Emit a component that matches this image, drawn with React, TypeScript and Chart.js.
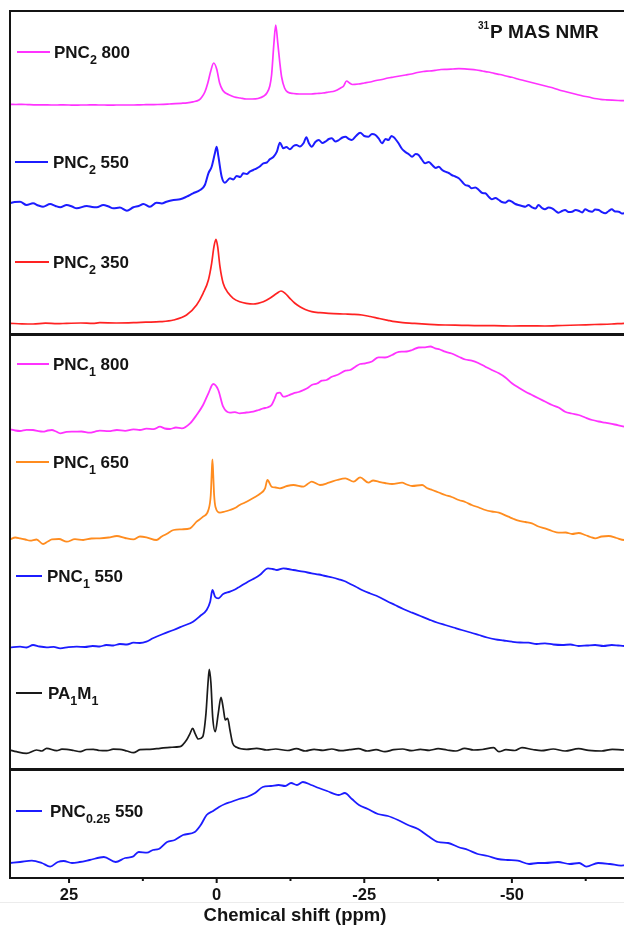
import React, { useEffect, useRef } from "react";
import { Chart, registerables } from "chart.js";

Chart.register(...registerables);

// Chemical shift axis (ppm); high field to the right
const SHIFT_LEFT = 35;
const SHIFT_RIGHT = -70;
const TICK_STEP = 12.5;
const LABEL_STEP = 25;

type Pt = [number, number];

// 31P MAS NMR traces: [chemical shift (ppm), intensity (a.u.)]
const pnc2_800: Pt[] = [
  [35, 0.7], [34, 0.5], [33, 0.6], [32, 0.4], [31, 0.2], [30, 0.2], [29, 0.1], [28, 0], [27, 0], [26, 0.1],
  [25, 0], [24, -0.2], [23, 0], [22, 0], [21, 0.2], [20, 0], [19, 0], [18, -0.2], [17, 0], [16, 0],
  [15, 0], [14, 0], [13, 0.2], [12, 0.3], [11, 0.4], [10, 0.5], [9, 0.7], [8, 1], [7, 1.3], [6, 1.7],
  [5, 2.2], [4, 3.2], [3, 5], [2.5, 8], [2, 13], [1.5, 22], [1, 34], [0.5, 42], [0, 36], [-0.5, 22],
  [-1, 15], [-1.5, 12], [-2, 10.5], [-3, 8], [-4, 7], [-5, 6], [-6, 6], [-7, 6.5], [-8, 9], [-8.5, 12],
  [-9, 19], [-9.3, 30], [-9.7, 62], [-10, 80], [-10.35, 62], [-10.7, 42], [-11, 28], [-11.5, 17], [-12, 13], [-13, 11.5],
  [-14, 11], [-15, 11], [-16, 11], [-17, 11.5], [-18, 12], [-19, 13], [-20, 14], [-21, 17], [-21.5, 19], [-22, 24],
  [-22.5, 22], [-23, 20.5], [-24, 21], [-25, 22], [-26, 23], [-27, 24.5], [-28, 25.5], [-29, 27], [-30, 28], [-31, 29],
  [-32, 30], [-33, 31], [-34, 32.5], [-35, 33.5], [-36, 34], [-37, 34.7], [-38, 35.5], [-39, 35.7], [-40, 36], [-41, 36.3],
  [-42, 36.2], [-43, 35.7], [-44, 35], [-45, 34], [-46, 33], [-47, 31.7], [-48, 30.5], [-49, 29], [-50, 27.7], [-51, 26],
  [-52, 24.5], [-53, 23], [-54, 21.5], [-55, 20], [-56, 18.5], [-57, 17], [-58, 15], [-59, 13.5], [-60, 12], [-61, 10.5],
  [-62, 9], [-63, 8], [-64, 6.5], [-65, 5.7], [-66, 5.2], [-67, 4.8], [-68, 4.5], [-69, 4.3], [-70, 4],
];

const pnc2_550: Pt[] = [
  [35, 11.7], [34.2, 13], [33.3, 13.3], [32.2, 10], [31.1, 11.7], [30.2, 9.5], [29.4, 8.3], [28.2, 11], [27.3, 9], [26.5, 7.7],
  [25.4, 10], [24.5, 8.5], [23.7, 6.7], [22, 9], [21.1, 8], [20.3, 7.7], [19.2, 10], [18.3, 8.5], [17.5, 6.7], [16.4, 7.5],
  [15.2, 4.3], [14.1, 7.7], [13.2, 9], [12.4, 11], [11.3, 8.3], [10.2, 12.3], [9.3, 11.5], [8.5, 13.3], [7.3, 15], [6.2, 15.7],
  [5.1, 18.3], [4, 21.7], [2.8, 25], [2, 30], [1.4, 41.7], [0.85, 48.3], [0.3, 61.7], [0, 68.3], [-0.3, 58.3], [-0.85, 38.3],
  [-1.4, 32.3], [-2.25, 36.7], [-2.8, 35.5], [-3.4, 39], [-4, 38], [-4.5, 41.7], [-5.1, 41], [-5.6, 43.3], [-6.2, 45], [-6.8, 46.7],
  [-7.3, 48.5], [-7.9, 51.7], [-8.5, 52.5], [-9, 55.7], [-9.6, 58], [-10.2, 63.3], [-10.7, 72.3], [-11.3, 66.7], [-11.8, 68], [-12.4, 65.7],
  [-13, 69], [-13.5, 70], [-14.1, 68.5], [-14.7, 71.7], [-15.2, 77.7], [-15.6, 72], [-16.1, 68.3], [-16.7, 73], [-17.3, 75], [-17.9, 72],
  [-18.4, 73.3], [-19, 76], [-19.5, 76.7], [-20.1, 73.5], [-20.7, 75], [-21.3, 77.5], [-21.8, 78.3], [-22.4, 76], [-22.9, 75], [-23.6, 79],
  [-24.3, 82.3], [-25, 79], [-25.7, 78.3], [-26.3, 81], [-26.9, 80], [-27.5, 76], [-28, 71.7], [-28.6, 76], [-29.1, 75], [-29.6, 79],
  [-30, 77.7], [-30.4, 75], [-30.8, 71.7], [-31.4, 66], [-31.9, 63.3], [-32.5, 61], [-33.1, 58.3], [-33.7, 61], [-34.2, 60], [-34.8, 55],
  [-35.3, 51.7], [-35.9, 53], [-36.5, 50], [-37.1, 47], [-37.6, 48.3], [-38.2, 45], [-38.7, 43.3], [-39.3, 42], [-39.8, 40], [-40.4, 38.5],
  [-41, 36.7], [-41.6, 33], [-42.1, 30], [-42.7, 29], [-43.2, 26.7], [-43.8, 27.5], [-44.4, 25], [-45, 22], [-45.5, 21.7], [-46.1, 18],
  [-46.6, 15.7], [-47.2, 17], [-47.8, 15], [-48.3, 13], [-48.9, 12.3], [-49.5, 14.5], [-50, 13.3], [-50.6, 11], [-51.1, 10], [-51.7, 9],
  [-52.3, 8.3], [-52.8, 10], [-53.4, 7.7], [-54, 6.5], [-54.5, 10], [-55.1, 7], [-55.6, 5.7], [-56.2, 7.5], [-56.8, 6.7], [-57.4, 4],
  [-57.9, 2.3], [-58.5, 4], [-59, 5], [-59.6, 3], [-60.2, 3.3], [-60.8, 5], [-61.3, 4.3], [-61.9, 2.5], [-62.4, 5.7], [-63, 4],
  [-63.6, 3.3], [-64.1, 5.5], [-64.7, 5], [-65.2, 3], [-65.8, 1.7], [-66.4, 4], [-66.9, 5.7], [-67.5, 3.5], [-68.1, 3.3], [-68.6, 1.5],
  [-69, 1.7], [-70, 3],
];

const pnc2_350: Pt[] = [
  [35, 1.7], [33, 1.2], [31.1, 1], [29, 1.8], [27, 1.3], [25.4, 1.7], [23, 2], [21, 1.6], [19.8, 2.3], [17, 2],
  [14.1, 2.3], [12, 2.8], [9.6, 3.3], [7.3, 5], [5.1, 10], [3.4, 20], [2.3, 31.7], [1.4, 45], [0.85, 61.7], [0.46, 78.3],
  [0.12, 85.7], [-0.17, 78.3], [-0.56, 58.3], [-1.1, 41.7], [-2, 31.7], [-2.8, 26.7], [-3.9, 23.3], [-5, 21.7], [-6.2, 21], [-7, 21.7],
  [-7.9, 23.3], [-9, 26.7], [-10.2, 31.7], [-10.9, 34], [-11.6, 31.7], [-12.4, 26.7], [-13.2, 22], [-14.1, 18.3], [-15, 15.5], [-16.1, 13.3],
  [-17.5, 12.3], [-19, 11.7], [-21.8, 11], [-23, 10.7], [-24.6, 10], [-26, 8.5], [-27.4, 6.7], [-29, 4.7], [-30.2, 3.3], [-31.5, 2.3],
  [-33.1, 1.7], [-36, 0.7], [-38.7, 0], [-41.5, -0.3], [-44.4, -0.7], [-47, -0.7], [-50, -1], [-53, -0.8], [-55.6, -1], [-58.5, -0.5],
  [-61.3, 0], [-64, 0.5], [-66.9, 1], [-69, 1.7], [-70, 1.8],
];

const pnc1_800: Pt[] = [
  [35, 2.7], [34.1, 1.5], [33.3, 1], [32.2, 2.2], [31.1, 2], [30.2, 0.8], [29.4, 0.3], [28.6, 1.5], [27.9, 2], [27.2, 0.5],
  [26.5, -1.3], [25.4, 0.2], [24.3, 0.3], [22.9, 0.5], [21.5, -0.7], [20.6, 0.4], [19.8, 1.3], [18.3, 0.8], [16.9, 2], [15.5, 1.2],
  [14.1, 2.7], [13, 2], [11.9, 3.3], [10.7, 2.8], [9.6, 5.3], [8.8, 3.5], [7.9, 3], [6.9, 4.5], [5.9, 3.7], [4.5, 8.7],
  [3.4, 17], [2.3, 27], [1.4, 38.7], [0.58, 48], [-0.27, 42], [-1.1, 25.3], [-2.25, 19.3], [-3.1, 19.8], [-3.9, 18.7], [-5, 19.5],
  [-6.2, 20.3], [-7.1, 22], [-7.9, 23.7], [-8.6, 24.5], [-9.3, 27], [-9.8, 33], [-10.2, 38.7], [-10.7, 39.3], [-11.3, 35.3], [-12.1, 36.5],
  [-13, 38.7], [-13.9, 40], [-14.7, 42], [-15.4, 44], [-16.1, 47], [-17, 48.5], [-17.8, 51.3], [-18.6, 52], [-19.5, 55.3], [-20.6, 57.5],
  [-21.8, 61.3], [-22.6, 62], [-23.5, 65.3], [-24.3, 68], [-25.2, 68.7], [-26.3, 70.5], [-27.4, 74.7], [-28.5, 74.5], [-29.7, 77], [-30.5, 79.5],
  [-31.4, 80.3], [-32.2, 80.5], [-33.1, 82], [-34.2, 84.5], [-35.3, 84.7], [-36.2, 85.5], [-37, 83.7], [-37.8, 82.5], [-38.7, 80.3], [-39.8, 78.5],
  [-41, 75.3], [-42.1, 72.5], [-43.2, 71.3], [-44.3, 69], [-45.5, 65.3], [-46.6, 62], [-47.8, 58.7], [-48.9, 54.5], [-50, 48.7], [-51.1, 44.5],
  [-52.3, 40.3], [-53.4, 37], [-54.5, 33.7], [-55.6, 30.5], [-56.8, 27], [-57.9, 24.5], [-59, 20.3], [-60.1, 18.5], [-61.3, 17], [-62.4, 14.5],
  [-63.6, 12], [-64.7, 10.5], [-65.8, 9.3], [-67.4, 7.5], [-69, 5.3], [-70, 5],
];

const pnc1_650: Pt[] = [
  [35, 0.7], [34.1, 2.5], [33.3, 1.7], [32.4, 0.5], [31.6, -0.7], [30.5, 0.5], [29.4, -4], [28.6, -1.5], [27.9, 0.7], [26.7, 1],
  [25.4, -1.7], [24, 0.8], [22.6, 0], [21.2, 1.5], [19.8, 1.7], [18.3, 2.5], [16.9, 4], [15.5, 2], [14.1, 0.7], [13, 3.5],
  [11.9, 2.7], [10.2, 0], [9.3, 3.5], [8.5, 6], [7.3, 10], [5.9, 10.7], [4.5, 11.7], [3.4, 18.3], [2.3, 23.3], [1.4, 30],
  [1.0, 45], [0.85, 65], [0.72, 80.7], [0.58, 65], [0.43, 45], [0.2, 33], [-0.56, 27.3], [-1.4, 28.5], [-2.25, 30], [-3.1, 32],
  [-3.9, 35], [-4.8, 37.5], [-5.6, 40], [-6.5, 43], [-7.3, 46], [-8.2, 51.7], [-8.6, 60], [-9.3, 53.3], [-10, 52.5], [-10.7, 51.7],
  [-11.9, 54], [-13, 55], [-14.7, 53.3], [-15.4, 56], [-16.1, 58.3], [-17.5, 55], [-19, 57.3], [-20.4, 60], [-21.8, 61.7], [-23.2, 58.3],
  [-24.3, 62.7], [-25.7, 57.3], [-26.5, 59.5], [-27.4, 58.3], [-28.5, 57], [-29.7, 56], [-31.4, 57.3], [-32.2, 55.5], [-33.1, 54], [-34.8, 55],
  [-35.6, 52], [-36.5, 50], [-37.6, 47.5], [-38.7, 45], [-39.8, 43], [-41, 40], [-42.1, 38], [-43.2, 35], [-44.4, 32.5], [-45.5, 30],
  [-46.6, 28.5], [-47.8, 27.3], [-49.4, 23.3], [-50.3, 21], [-51.1, 19.3], [-52.3, 18], [-53.4, 16.7], [-54.5, 13.5], [-55.6, 11.7], [-56.8, 9],
  [-57.9, 7.3], [-59.1, 7.5], [-60.2, 6], [-61.3, 7], [-62.4, 5], [-63.3, 3], [-64.1, 1.7], [-65.2, 3.5], [-66.4, 4], [-67.7, 2],
  [-69, 0], [-70, 0.5],
];

const pnc1_550: Pt[] = [
  [35, 0.7], [33.3, 1.3], [32.2, 0.5], [31.1, 3], [30, 1.5], [28.8, 0.7], [27.6, 1.2], [26.5, -0.3], [25.1, 0.8], [23.7, 1.3],
  [22.3, 1], [21, 2], [19.8, 1.5], [18.7, 3], [17.5, 2.5], [16.4, 4], [15.2, 3.5], [14.1, 5.3], [13, 5], [11.9, 6.3],
  [10.8, 9.7], [9.1, 14], [7.3, 18], [5.7, 22], [4, 26.3], [2.8, 32], [1.7, 38], [1.1, 46.3], [0.72, 58], [0.27, 51.3],
  [-0.29, 49.7], [-1.1, 54], [-2.25, 56.3], [-3.1, 58.5], [-3.9, 61.3], [-4.8, 64.5], [-5.6, 67.3], [-6.5, 70], [-7.3, 73], [-8.7, 79.7],
  [-9.5, 79], [-10.2, 78], [-11.3, 79.7], [-12.1, 79], [-13, 78], [-14.7, 76.3], [-16.1, 74.7], [-17.3, 73.5], [-18.4, 72], [-19.6, 70.5],
  [-20.7, 68.7], [-21.6, 67], [-22.4, 64.7], [-23.5, 61.5], [-24.6, 58], [-26, 54.5], [-27.4, 51.3], [-28.8, 47], [-30.2, 43], [-31.6, 39],
  [-33.1, 35.3], [-34.5, 32], [-35.9, 28.7], [-37.3, 25.5], [-38.7, 23], [-40.1, 20.5], [-41.5, 18], [-43, 15.5], [-44.4, 13], [-45.8, 10.5],
  [-47.2, 8.7], [-48.6, 7.5], [-50, 6.3], [-51.4, 5.5], [-52.8, 5.3], [-54.2, 4], [-55.6, 4.7], [-57, 3.5], [-58.5, 3], [-59.9, 3.5],
  [-61.3, 2], [-62.7, 2.5], [-64.1, 3], [-65.5, 2], [-66.9, 3], [-68, 2.5], [-69, 2], [-70, 2],
];

const pa1m1: Pt[] = [
  [35, 0], [33.9, -1.7], [32.2, -3.3], [30.5, 0], [29.6, -1], [28.8, 1.7], [27.1, -0.7], [26.2, 0.8], [25.4, 0.7], [24.2, -0.5],
  [23.1, -1.7], [22, 0.5], [20.9, 0.7], [19.8, -0.5], [18.6, -0.7], [17.5, 0.8], [16.4, 0.7], [15.2, -1], [14.1, -2.7], [13, 0.3],
  [11.9, 0.7], [11.3, 0.7], [9.6, 1.7], [7.9, 2.7], [6.2, 3.3], [5.1, 10], [4.5, 16.7], [4.06, 21.7], [3.67, 16.7], [3.12, 11],
  [2.37, 13.3], [1.81, 36.7], [1.47, 66.7], [1.25, 80.7], [0.97, 66.7], [0.68, 33.3], [0.24, 18.3], [-0.27, 36.7], [-0.73, 52.7], [-1.12, 41.7],
  [-1.46, 30], [-1.86, 31.7], [-2.25, 20], [-2.71, 6.7], [-3.39, 2.7], [-5.08, 0.7], [-6.77, 1.7], [-8.47, 0], [-10, 1], [-12, -0.5],
  [-13.5, 1.3], [-15, -1], [-16.5, 0.7], [-18, -0.3], [-19.5, 1], [-21, -0.7], [-22.5, 0.3], [-24, 1.3], [-25.5, -1], [-27, 0.3],
  [-28.5, -1.7], [-30, 0.3], [-31.5, 1], [-33, -0.7], [-34.5, 0.7], [-36, -0.3], [-37.5, 1.3], [-39, 0], [-40.5, -1], [-42, 1.7],
  [-43.5, 0], [-45, 0.5], [-46.9, 2.3], [-47.8, -1.7], [-49, 0.3], [-50.5, -0.5], [-51.7, 2.3], [-53.5, 0.5], [-55, -0.7], [-57, 1],
  [-59, -1], [-61.3, 1.3], [-63, -0.3], [-65.2, -1], [-67, 0.7], [-69, 0], [-70, 0.3],
];

const pnc025_550: Pt[] = [
  [35, 1], [33.3, 2], [31.3, 3.4], [29.6, 1], [28.2, -2.6], [26.9, 2], [25.9, 3], [24.5, 1], [23.2, 2], [21.5, 4],
  [19.1, 7], [17.1, 2], [15.5, 6], [14.2, 7.3], [13.2, 12], [11.8, 11.3], [10.8, 14], [9.8, 15], [8.4, 22], [7.1, 24],
  [5.7, 29], [3.7, 32], [2.7, 39], [1.7, 49], [0.6, 53], [-0.4, 57], [-1.4, 60], [-2.4, 62], [-3.8, 65], [-5.1, 67],
  [-6.5, 71], [-7.8, 77], [-9.2, 78], [-10.5, 79], [-11.6, 78], [-12.6, 81], [-13.6, 79], [-14.6, 82], [-16, 79], [-17.3, 76],
  [-18.7, 73], [-20.7, 69], [-21.7, 71], [-22.9, 65], [-24.1, 59], [-25.6, 55], [-27.3, 50], [-29, 48], [-30.7, 44], [-32.4, 39],
  [-34.1, 35], [-35.8, 28], [-37.5, 22], [-39.2, 21], [-40.9, 17], [-42.6, 14], [-44.2, 10], [-45.9, 8], [-47.6, 5], [-49.3, 4],
  [-51, 3.4], [-52.9, 0], [-54.4, 1], [-55.6, 1], [-57.8, 2], [-59.8, 0], [-61.4, 1], [-62.6, -2.6], [-64.6, 1], [-66.6, 0],
  [-68.5, -1.6], [-70, 0],
];

// Trace names, split into normal and subscript runs
type Run = [string, "n" | "sub"];
const NAMES: Run[][] = [
  [["PNC", "n"], ["2", "sub"], [" 800", "n"]],
  [["PNC", "n"], ["2", "sub"], [" 550", "n"]],
  [["PNC", "n"], ["2", "sub"], [" 350", "n"]],
  [["PNC", "n"], ["1", "sub"], [" 800", "n"]],
  [["PNC", "n"], ["1", "sub"], [" 650", "n"]],
  [["PNC", "n"], ["1", "sub"], [" 550", "n"]],
  [["PA", "n"], ["1", "sub"], ["M", "n"], ["1", "sub"]],
  [["PNC", "n"], ["0.25", "sub"], [" 550", "n"]],
];
const TRACES = [pnc2_800, pnc2_550, pnc2_350, pnc1_800, pnc1_650, pnc1_550, pa1m1, pnc025_550];

const COLORS = ["#ff33ff", "#1c1cff", "#ff2222", "#ff33ff", "#ff8c1f", "#1c1cff", "#1a1a1a", "#1c1cff"];
const WIDTHS = [1.7, 2, 1.7, 1.8, 1.8, 1.8, 1.7, 1.8];
// vertical stacking: full stack height and each trace's baseline level
const STACK_HEIGHT = 867;
const OFFSETS = [773, 663, 553, 446, 338, 230, 128, 14];
const PANEL_BREAKS = [543.5, 108.5];
// legend rows: line sample start/end and text start (px from plot left), row centre (px from plot top)
const LEGEND = [
  { x0: 7, x1: 40, tx: 44, y: 41 },
  { x0: 5, x1: 38, tx: 43, y: 151 },
  { x0: 5, x1: 39, tx: 43, y: 251 },
  { x0: 7, x1: 39, tx: 43, y: 353 },
  { x0: 6, x1: 39, tx: 43, y: 451 },
  { x0: 6, x1: 32, tx: 37, y: 565 },
  { x0: 6, x1: 32, tx: 38, y: 682 },
  { x0: 6, x1: 32, tx: 40, y: 800 },
];

const FONT = "'Liberation Sans', Arial, Helvetica, sans-serif";
const INK = "#141414";

const overlay = {
  id: "stackOverlay",
  afterDraw(chart: any) {
    const { ctx, chartArea: a, scales } = chart;
    const xs = scales.x;
    const ys = scales.y;
    const seg = (x1: number, y1: number, x2: number, y2: number) => {
      ctx.beginPath();
      ctx.moveTo(x1, y1);
      ctx.lineTo(x2, y2);
      ctx.stroke();
    };
    ctx.save();

    // faint rule under the tick labels
    ctx.strokeStyle = "#ececec";
    ctx.lineWidth = 1;
    seg(0, 902.5, chart.width, 902.5);

    // frame and panel dividers
    ctx.strokeStyle = INK;
    ctx.lineWidth = 2;
    ctx.strokeRect(a.left, a.top, a.right - a.left, a.bottom - a.top);
    ctx.lineWidth = 3;
    for (const v of PANEL_BREAKS) {
      const y = ys.getPixelForValue(v);
      seg(a.left, y, a.right, y);
    }

    // major and minor tick marks
    ctx.lineWidth = 2;
    for (const t of xs.ticks) {
      const x = xs.getPixelForValue(t.value);
      const len = Math.abs(t.value % LABEL_STEP) < 1e-6 ? 5 : 3;
      seg(x, a.bottom, x, a.bottom + len);
    }

    // trace labels with line samples
    ctx.textBaseline = "alphabetic";
    ctx.textAlign = "left";
    NAMES.forEach((runs, i) => {
      const L = LEGEND[i];
      const y = a.top + L.y;
      ctx.strokeStyle = COLORS[i];
      ctx.lineWidth = 2;
      seg(a.left + L.x0, y, a.left + L.x1, y);
      ctx.fillStyle = INK;
      let cx = a.left + L.tx;
      const base = y + 6;
      for (const [txt, kind] of runs) {
        if (kind === "sub") {
          ctx.font = `bold 12.5px ${FONT}`;
          ctx.fillText(txt, cx, base + 6);
        } else {
          ctx.font = `bold 17px ${FONT}`;
          ctx.fillText(txt, cx, base);
        }
        cx += ctx.measureText(txt).width;
      }
    });

    // spectrum type, top right
    ctx.fillStyle = INK;
    ctx.font = `bold 10px ${FONT}`;
    ctx.fillText("31", 478, 29);
    ctx.font = `bold 19px ${FONT}`;
    ctx.fillText("P MAS NMR", 490, 38);

    // axis title
    ctx.textAlign = "center";
    ctx.font = `bold 18.5px ${FONT}`;
    ctx.fillText("Chemical shift (ppm)", 295, 921);

    ctx.restore();
  },
};

export default function App() {
  const ref = useRef<HTMLCanvasElement>(null);

  useEffect(() => {
    if (!ref.current) return;
    const chart = new Chart(ref.current, {
      type: "line",
      data: {
        // points in ascending shift order so the monotone curve is well defined
        datasets: TRACES.map((trace, i) => ({
          data: trace
            .slice()
            .reverse()
            .map(([x, v]) => ({ x, y: v + OFFSETS[i] })),
          borderColor: COLORS[i],
          borderWidth: WIDTHS[i],
          pointRadius: 0,
          cubicInterpolationMode: "monotone",
          borderJoinStyle: "round",
          fill: false,
        })),
      },
      options: {
        animation: false,
        responsive: false,
        devicePixelRatio: 1,
        events: [],
        layout: { padding: { top: 11, left: 10, right: 2, bottom: 0 } },
        plugins: { legend: { display: false }, tooltip: { enabled: false } },
        scales: {
          x: {
            type: "linear",
            min: SHIFT_RIGHT,
            max: SHIFT_LEFT,
            reverse: true,
            border: { display: false },
            grid: { display: true, drawOnChartArea: false, drawTicks: true, tickLength: 5, color: "rgba(0,0,0,0)" },
            ticks: {
              stepSize: TICK_STEP,
              includeBounds: false,
              autoSkip: false,
              maxRotation: 0,
              padding: 3,
              color: INK,
              font: { family: FONT, size: 16.5, weight: "bold" },
              callback: (v: any) => (Math.abs(Number(v) % LABEL_STEP) < 1e-6 ? String(Number(v)) : ""),
            },
            afterFit: (scale: any) => {
              scale.height = 50;
            },
          },
          y: { type: "linear", display: false, min: 0, max: STACK_HEIGHT },
        },
      },
      plugins: [overlay],
    } as any);
    return () => chart.destroy();
  }, []);

  return (
    <div
      style={{
        position: "absolute",
        left: 0,
        top: 0,
        width: 624,
        height: 928,
        overflow: "hidden",
        background: "#fff",
      }}
    >
      <canvas ref={ref} width={632} height={928} style={{ display: "block", width: 632, height: 928 }} />
    </div>
  );
}
